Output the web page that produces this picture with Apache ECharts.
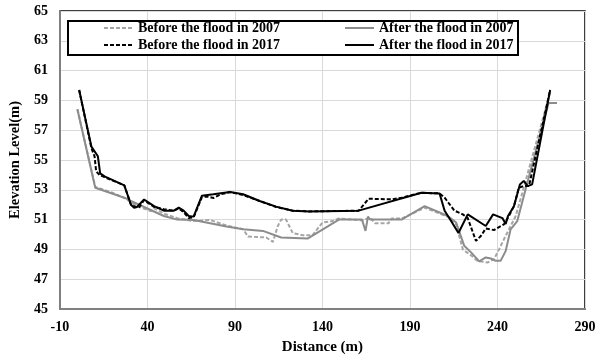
<!DOCTYPE html>
<html>
<head>
<meta charset="utf-8">
<script src="https://cdn.jsdelivr.net/npm/echarts@6/dist/echarts.min.js"></script>
<style>
  html, body { margin: 0; padding: 0; background: #fff; }
  #chart { width: 605px; height: 360px; }
</style>
</head>
<body>
<div id="chart"></div>
<script>
// Cross-section survey: distance along the section (m) and bed elevation (m)
const before2007Dist = [0, 10.2, 20, 26.8, 34.3, 41.9, 44, 49.4, 57, 66.4, 75.8, 85.2, 94.7, 97.5, 107.9, 111.7, 114.5, 116.4, 119.2, 123, 128.7, 134.3, 140, 145.6, 149.4, 157, 162.6, 167.3, 170.1, 177.7, 179.6, 185.2, 198.4, 211.6, 216.4, 220.2, 224.9, 228.6, 234.3, 238, 240.9, 243.7, 247.5, 250.4, 254.2, 270];
const before2007Elev = [58.4, 53.2, 52.8, 52.45, 51.9, 51.57, 51.75, 51.4, 51.1, 50.9, 50.97, 50.6, 50.35, 49.86, 49.8, 49.5, 50.57, 51.0, 51.0, 50.1, 49.95, 49.95, 50.8, 50.9, 51.07, 51.0, 50.95, 51.13, 50.75, 50.75, 51.07, 51.07, 51.8, 51.2, 50.68, 49.0, 48.6, 48.23, 48.12, 48.34, 49.0, 49.68, 50.57, 51.24, 52.8, 59.5];

const after2007Dist = [0, 10.2, 26.8, 30.6, 49.4, 57, 66.4, 85.2, 94.7, 106, 116.4, 131.5, 149.4, 162.6, 164.6, 166, 167.3, 185.2, 198.4, 211.6, 216.4, 221, 224.9, 229.6, 233.3, 236.2, 239, 241.8, 244.7, 247.5, 251.3, 256, 269.2, 274];
const after2007Elev = [58.4, 53.14, 52.47, 52.25, 51.24, 51.0, 50.97, 50.53, 50.35, 50.24, 49.8, 49.73, 51.0, 51.0, 50.24, 51.2, 51.0, 51.0, 51.9, 51.24, 50.8, 49.24, 48.8, 48.2, 48.46, 48.39, 48.23, 48.23, 48.9, 50.35, 50.9, 53.0, 58.83, 58.83];

const before2017Dist = [1, 8, 9.8, 10.7, 12.6, 15.5, 26.8, 30.6, 32.4, 35, 38.1, 43.8, 49.4, 55.1, 57.9, 60.7, 63.6, 66.4, 71.1, 74, 77.7, 82, 87.2, 94.7, 104.1, 113.5, 123, 132.4, 160.7, 166.4, 179.6, 185.2, 196.6, 206.9, 209.8, 215.4, 220.2, 223, 227.7, 230.5, 233.3, 238, 243.7, 246.5, 249.4, 252.2, 255, 258, 270.1];
const before2017Elev = [59.7, 55.8, 55.25, 54.25, 54.0, 53.85, 53.3, 52.0, 51.9, 51.8, 52.3, 51.85, 51.7, 51.6, 51.75, 51.5, 51.1, 51.15, 52.5, 52.55, 52.45, 52.7, 52.85, 52.65, 52.25, 51.85, 51.6, 51.55, 51.6, 52.4, 52.36, 52.47, 52.8, 52.76, 52.47, 51.6, 51.35, 51.1, 49.57, 49.9, 50.4, 50.3, 50.68, 51.24, 51.9, 53.14, 53.25, 53.25, 59.7];

const after2017Dist = [1, 8, 11.7, 13, 15.5, 26.8, 30.6, 32.4, 34, 38.1, 43.8, 49.4, 55.1, 57.9, 60.7, 63.6, 66.4, 71.1, 77.7, 87.2, 94.7, 104.1, 113.5, 123, 132.4, 160.7, 196.6, 206.9, 209.8, 213.5, 217.7, 223, 233.3, 237.5, 242.8, 244.7, 246, 249.4, 252.8, 255, 257.3, 259.8, 270.1];
const after2017Elev = [59.7, 55.9, 55.25, 54.1, 53.9, 53.3, 52.0, 51.8, 51.85, 52.35, 51.9, 51.6, 51.6, 51.8, 51.6, 51.24, 51.2, 52.6, 52.7, 52.85, 52.7, 52.25, 51.87, 51.6, 51.55, 51.6, 52.8, 52.76, 51.6, 50.9, 50.1, 51.35, 50.57, 51.35, 51.1, 50.7, 51.24, 51.9, 53.36, 53.6, 53.25, 53.36, 59.7];

const seriesNames = ['Before the flood in 2007', 'After the flood in 2007', 'Before the flood in 2017', 'After the flood in 2017'];

const xMin = -10, xMax = 290, xStep = 50;
const yMin = 45, yMax = 65, yStep = 2;

function pairs(xs, ys) {
  return xs.map((x, i) => [x, ys[i]]);
}

const serif = 'Liberation Serif';
const legendText = { fontFamily: serif, fontWeight: 'bold', fontSize: 14, color: '#000' };

// legend keys show only the line stroke, no marker
const legendBase = {
  orient: 'vertical', top: 21, padding: 0,
  itemWidth: 29, itemHeight: 14, itemGap: 3, selectedMode: false,
  itemStyle: { opacity: 0 },
  textStyle: legendText
};

const chart = echarts.init(document.getElementById('chart'), null, { renderer: 'canvas' });

chart.setOption({
  animation: false,
  backgroundColor: '#fff',
  grid: {
    left: 55, right: 20, top: 11, bottom: 50,
    show: true, borderColor: '#000', borderWidth: 1.5, backgroundColor: 'transparent'
  },
  xAxis: {
    type: 'value', min: xMin, max: xMax, interval: xStep,
    name: 'Distance (m)', nameLocation: 'middle', nameGap: 31,
    nameTextStyle: { fontFamily: serif, fontWeight: 'bold', fontSize: 15, color: '#000' },
    axisLine: { show: true, onZero: false, lineStyle: { color: '#808080', width: 2 } },
    axisTick: { show: false },
    axisLabel: { margin: 11, fontFamily: serif, fontWeight: 'bold', fontSize: 14, color: '#000' },
    splitLine: { show: true, lineStyle: { color: '#d9d9d9', width: 1 } }
  },
  yAxis: {
    type: 'value', min: yMin, max: yMax, interval: yStep,
    name: 'Elevation Level(m)', nameLocation: 'middle', nameGap: 28, nameRotate: 90,
    nameTextStyle: { fontFamily: serif, fontWeight: 'bold', fontSize: 14.5, color: '#000' },
    axisLine: { show: true, onZero: false, lineStyle: { color: '#808080', width: 2 } },
    axisTick: { show: false },
    axisLabel: { margin: 12, fontFamily: serif, fontWeight: 'bold', fontSize: 14, color: '#000' },
    splitLine: { show: true, lineStyle: { color: '#d9d9d9', width: 1 } }
  },
  graphic: [{
    type: 'rect', z: 3,
    shape: { x: 68, y: 21, width: 450, height: 34 },
    style: { fill: '#fff', stroke: '#000', lineWidth: 2 }
  }],
  legend: [
    Object.assign({}, legendBase, { left: 103, data: [seriesNames[0], seriesNames[2]] }),
    Object.assign({}, legendBase, { left: 344, data: [seriesNames[1], seriesNames[3]] })
  ],
  series: [{
    name: seriesNames[0], type: 'line', symbol: 'none', z: 2,
    lineStyle: { color: '#a6a6a6', width: 2, type: [4, 2] },
    itemStyle: { color: '#a6a6a6' },
    data: pairs(before2007Dist, before2007Elev)
  }, {
    name: seriesNames[1], type: 'line', symbol: 'none', z: 2,
    lineStyle: { color: '#8c8c8c', width: 2, type: 'solid' },
    itemStyle: { color: '#8c8c8c' },
    data: pairs(after2007Dist, after2007Elev)
  }, {
    name: seriesNames[2], type: 'line', symbol: 'none', z: 3,
    lineStyle: { color: '#000', width: 2, type: [4, 2] },
    itemStyle: { color: '#000' },
    data: pairs(before2017Dist, before2017Elev)
  }, {
    name: seriesNames[3], type: 'line', symbol: 'none', z: 4,
    lineStyle: { color: '#000', width: 2, type: 'solid' },
    itemStyle: { color: '#000' },
    data: pairs(after2017Dist, after2017Elev)
  }]
});
</script>
</body>
</html>
